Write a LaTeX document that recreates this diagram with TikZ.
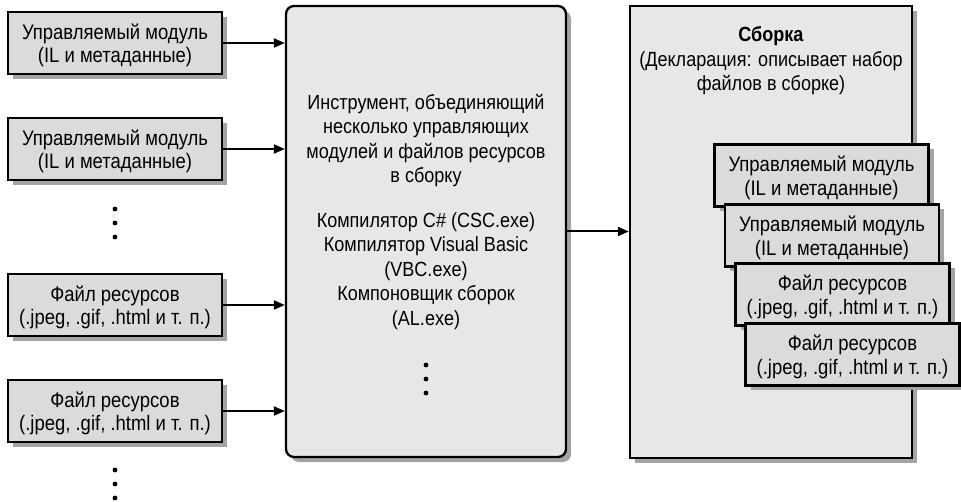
\documentclass[tikz,border=0pt]{standalone}
\usepackage{fontspec}
\setmainfont{Liberation Sans}[FakeStretch=0.88]
\usetikzlibrary{arrows.meta,shadows,positioning}

\definecolor{modfill}{HTML}{DADBDD}
\definecolor{bigfill}{HTML}{E6E7E9}
\definecolor{shadowgray}{HTML}{A3A4A6}

\tikzset{
  shade/.style={drop shadow={shadow xshift=5pt, shadow yshift=-5pt, fill=shadowgray, opacity=1}},
  module/.style={draw, line width=2.3pt, fill=modfill, shade, minimum width=214pt,
    minimum height=62pt, align=center, inner sep=0pt, text depth=0pt},
  bigbox/.style={draw, line width=2.3pt, fill=bigfill, shade, inner sep=0pt},
  feed/.style={-{Triangle[length=11pt,width=9pt]}, line width=2pt},
}

\begin{document}
\begin{tikzpicture}[x=1pt, y=-1pt, font=\fontsize{21}{23.5}\selectfont]
    \useasboundingbox (0,0) rectangle (961,502);

    % input files
    \node[module] (mod1) at (115,43) {Управляемый модуль\\(IL и метаданные)};
    \node[module] (mod2) at (115,149) {Управляемый модуль\\(IL и метаданные)};
    \node[module] (res1) at (115,305) {Файл ресурсов\\(.jpeg, .gif, .html и т. п.)};
    \node[module] (res2) at (115,411) {Файл ресурсов\\(.jpeg, .gif, .html и т. п.)};

    % tool
    \node[bigbox, rounded corners=8pt, minimum width=280pt, minimum height=451pt] (tool) at (426,231.5) {};
    \node[align=center, font=\fontsize{20.5}{24.5}\selectfont] (tooltext) at (426,212)
        {Инструмент, объединяющий\\несколько управляющих\\модулей и файлов ресурсов\\в сборку\\[20pt]
         Компилятор C\# (CSC.exe)\\Компилятор Visual Basic\\(VBC.exe)\\Компоновщик сборок\\(AL.exe)};

    % assembly
    \node[bigbox, minimum width=282pt, minimum height=452pt] (asm) at (771,232) {};
    \node[align=center, font=\fontsize{20.5}{24.5}\selectfont] (asmtext) at (771,61)
        {\textbf{Сборка}\\(Декларация: описывает набор\\файлов в сборке)};
    \node[module] (amod1) at (821.5,175.5) {Управляемый модуль\\(IL и метаданные)};
    \node[module] (amod2) at (832,235.5) {Управляемый модуль\\(IL и метаданные)};
    \node[module] (ares1) at (842.5,294.5) {Файл ресурсов\\(.jpeg, .gif, .html и т. п.)};
    \node[module] (ares2) at (852.5,354.5) {Файл ресурсов\\(.jpeg, .gif, .html и т. п.)};

    % arrows
    \foreach \src in {mod1,mod2,res1,res2}
        \draw[feed] (\src.east) -- (tool.west |- \src.east);
    \draw[feed] (tool.east) -- (asm.west |- tool.east);

    % ellipses
    \foreach \px/\py in {115/209, 426/365, 115/470}
        \foreach \k in {0,1,2}
            \fill (\px,\py+14*\k) circle (2.4pt);
\end{tikzpicture}
\end{document}
